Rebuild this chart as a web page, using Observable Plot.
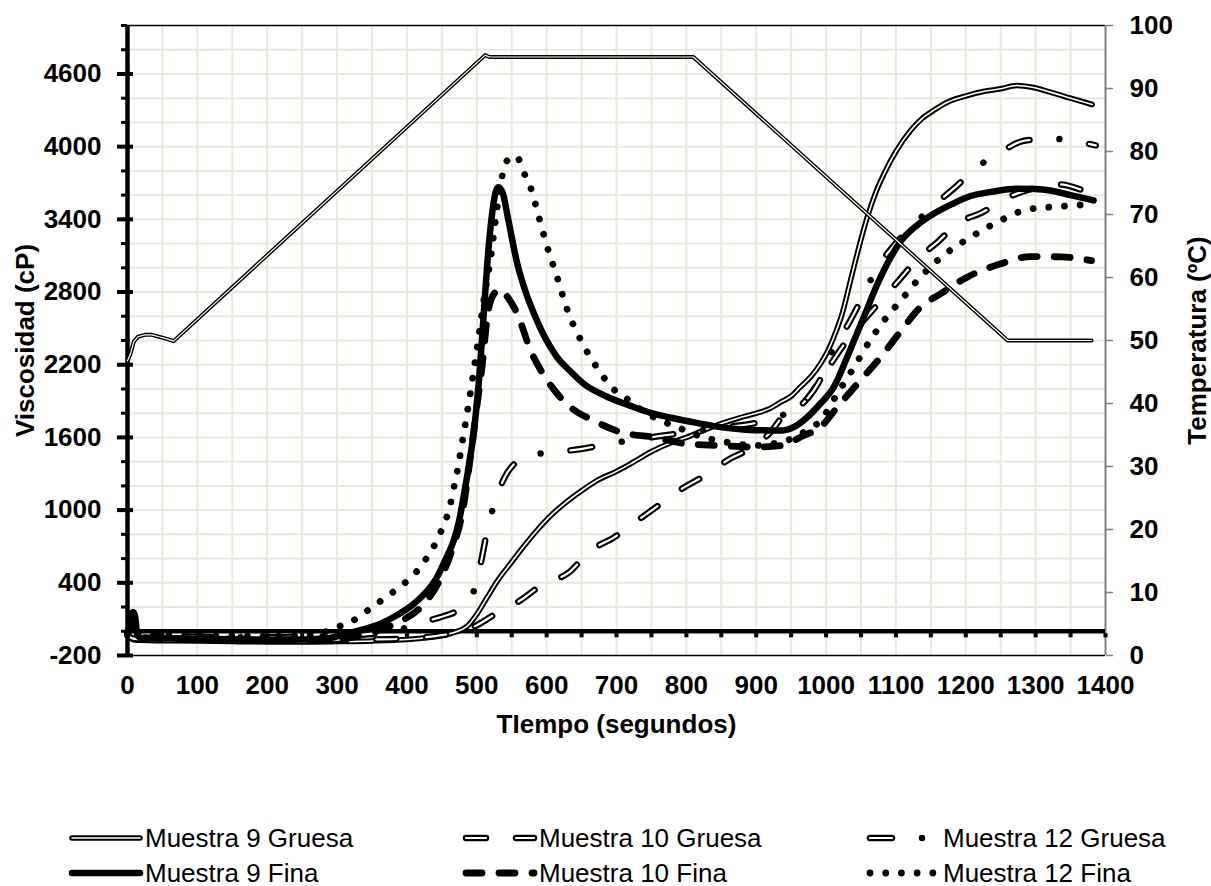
<!DOCTYPE html>
<html><head><meta charset="utf-8">
<script src="https://cdn.jsdelivr.net/npm/d3@7"></script>
<script src="https://cdn.jsdelivr.net/npm/@observablehq/plot@0.6"></script>
<style>
body{margin:0;background:#fff;}
#wrap{position:relative;width:1211px;height:886px;overflow:hidden;background:#fff;}
#legend{position:absolute;left:0;top:0;width:1211px;height:886px;font-family:"Liberation Sans",Arial,sans-serif;font-size:26px;color:#000;}
.item{position:absolute;display:flex;align-items:center;height:30px;white-space:nowrap;}
.item svg{display:block;margin-right:1px;}
</style></head><body><div id="wrap"><div id="legend"></div></div>
<script>
// ---- tick labels / axes ----
const xTicks = [0,100,200,300,400,500,600,700,800,900,1000,1100,1200,1300,1400];
const yTicks = [-200,400,1000,1600,2200,2800,3400,4000,4600];
const tempTicks = [0,10,20,30,40,50,60,70,80,90,100];
const xTitle = "TIempo (segundos)";
const yTitle = "Viscosidad (cP)";
const y2Title = "Temperatura (ºC)";
const seriesNames = ["Muestra 9 Gruesa","Muestra 10 Gruesa","Muestra 12 Gruesa","Muestra 9 Fina","Muestra 10 Fina","Muestra 12 Fina"];

// ---- temperature profile [t (s), T (ºC)] ----
const temperatura = [[0,46.8],[4,47.8],[9,49.8],[15,50.6],[25,50.9],[35,50.9],[45,50.6],[55,50.3],[66,49.9],[512,95.3],[518,95.0],[810,95.0],[1260,50.0],[1380,50.0]];

// ---- viscosity series [t (s), cP] ----
const muestra9Gruesa = [[0,-20],[4,-50],[8,-70],[20,-75],[50,-78],[100,-80],[150,-85],[200,-88],[250,-88],[300,-85],[350,-80],[400,-68],[430,-52],[450,-35],[465,-15],[477,10],[486,40],[500,140],[515,281],[530,420],[548,557],[567,700],[586,832],[605,950],[625,1052],[650,1160],[672,1244],[700,1320],[720,1382],[753,1492],[780,1560],[801,1602],[825,1660],[849,1712],[875,1760],[897,1795],[920,1840],[935,1891],[950,1940],[963,2015],[978,2100],[992,2208],[1003,2320],[1011,2427],[1023,2620],[1035,2895],[1047,3170],[1059,3418],[1071,3620],[1083,3776],[1100,3960],[1121,4133],[1137,4230],[1154,4299],[1175,4370],[1202,4422],[1225,4455],[1250,4478],[1273,4505],[1295,4490],[1321,4450],[1350,4400],[1381,4348]];
const muestra10Gruesa = [[0,-30],[8,-60],[20,-65],[50,-60],[100,-62],[150,-65],[200,-68],[250,-70],[300,-70],[350,-68],[400,-60],[440,-40],[470,-10],[500,50],[530,155],[562,254],[596,394],[630,477],[663,667],[696,773],[730,914],[760,1038],[794,1178],[827,1286],[863,1426],[892,1509],[920,1640],[939,1781],[968,1888],[1000,2150],[1030,2400],[1075,2705],[1104,2895],[1133,3085],[1159,3209],[1188,3366],[1223,3456],[1260,3580],[1300,3660],[1331,3690],[1368,3638],[1383,3600]];
const muestra12Gruesa = [[0,-10],[5,60],[9,100],[14,-20],[20,-40],[50,-35],[100,-45],[150,-50],[200,-50],[250,-45],[300,-40],[350,-20],[400,30],[429,85],[450,120],[472,171],[485,240],[496,337],[506,570],[515,832],[525,1050],[540,1272],[555,1390],[572,1451],[610,1478],[651,1506],[691,1550],[720,1575],[760,1610],[800,1640],[850,1680],[900,1720],[940,1790],[970,1900],[990,2060],[1011,2345],[1032,2538],[1052,2757],[1071,2978],[1095,3170],[1123,3341],[1157,3530],[1183,3655],[1216,3830],[1250,3955],[1285,4051],[1326,4065],[1364,4037],[1386,4010]];
const muestra9Fina = [[0,-20],[4,80],[8,160],[11,120],[14,-30],[20,-55],[50,-58],[100,-62],[150,-66],[200,-70],[250,-68],[290,-55],[314,-20],[340,20],[362,62],[385,130],[410,227],[430,340],[443,446],[455,590],[467,749],[475,920],[481,1107],[489,1380],[496,1657],[505,2208],[510,2620],[515,3033],[520,3350],[525,3570],[531,3665],[537,3620],[545,3400],[558,3033],[570,2800],[582,2620],[598,2420],[615,2262],[635,2140],[653,2043],[685,1940],[720,1860],[750,1800],[780,1760],[815,1720],[849,1685],[890,1662],[935,1657],[955,1690],[973,1767],[992,1880],[1011,2015],[1030,2260],[1046,2483],[1054,2592],[1073,2860],[1090,3060],[1106,3212],[1130,3350],[1154,3446],[1180,3525],[1202,3583],[1240,3630],[1273,3652],[1300,3650],[1321,3638],[1350,3600],[1383,3556]];
const muestra10Fina = [[0,-30],[8,60],[12,-20],[20,-50],[50,-60],[100,-65],[150,-70],[200,-72],[250,-72],[300,-65],[330,-40],[360,10],[390,80],[420,200],[445,400],[465,680],[480,1000],[490,1400],[500,1850],[508,2208],[515,2592],[524,2780],[534,2820],[545,2750],[558,2620],[577,2318],[601,2070],[634,1850],[667,1740],[706,1643],[753,1602],[801,1547],[849,1533],[897,1520],[935,1533],[968,1616],[992,1685],[1016,1850],[1049,2070],[1078,2262],[1106,2470],[1135,2675],[1164,2786],[1202,2923],[1250,3033],[1293,3093],[1336,3090],[1380,3060]];
const muestra12Fina = [[0,-20],[10,30],[20,-30],[50,-35],[100,-40],[150,-40],[200,-42],[250,-35],[280,-10],[300,34],[331,116],[350,199],[370,280],[386,350],[405,440],[419,529],[432,640],[443,749],[452,870],[460,997],[467,1180],[474,1382],[480,1590],[486,1795],[493,2050],[500,2318],[508,2648],[514,2880],[520,3088],[528,3450],[536,3748],[542,3872],[550,3915],[557,3919],[567,3789],[576,3680],[589,3418],[601,3170],[615,2923],[629,2662],[648,2414],[670,2194],[698,1987],[715,1919],[735,1830],[758,1754],[780,1700],[799,1657],[820,1610],[844,1575],[870,1550],[897,1533],[920,1545],[944,1575],[970,1650],[992,1740],[1016,1960],[1040,2180],[1063,2400],[1085,2580],[1107,2730],[1135,2923],[1168,3102],[1207,3253],[1245,3377],[1288,3481],[1333,3506],[1357,3515],[1383,3530]];

// ---- secondary axis mapping (0–100 ºC onto -200–5000 cP) ----
const vMin = -200, vMax = 5000;
const tempToV = T => vMin + T * (vMax - vMin) / 100;

// ---- styles ----
const styles = {
  "Muestra 9 Gruesa":  [{stroke:"black", strokeWidth:5.5}, {stroke:"white", strokeWidth:1.6}],
  "Muestra 10 Gruesa": [{stroke:"black", strokeWidth:6.5, strokeDasharray:"20,30"}, {stroke:"white", strokeWidth:2.2, strokeDasharray:"20,30"}],
  "Muestra 12 Gruesa": [{stroke:"black", strokeWidth:6.5, strokeDasharray:"22,30,0.01,30"}, {stroke:"white", strokeWidth:2.2, strokeDasharray:"22,60.01"}],
  "Muestra 9 Fina":    [{stroke:"black", strokeWidth:6.5}],
  "Muestra 10 Fina":   [{stroke:"black", strokeWidth:6.8, strokeDasharray:"16,17"}],
  "Muestra 12 Fina":   [{stroke:"black", strokeWidth:6.8, strokeDasharray:"0.01,15.7"}]
};
const seriesData = {
  "Muestra 9 Gruesa": muestra9Gruesa, "Muestra 10 Gruesa": muestra10Gruesa, "Muestra 12 Gruesa": muestra12Gruesa,
  "Muestra 9 Fina": muestra9Fina, "Muestra 10 Fina": muestra10Fina, "Muestra 12 Fina": muestra12Fina
};

const font = "'Liberation Sans', Arial, Helvetica, sans-serif";
const fs = 26;
const gridColor = "#ece8dc";
const xGrid = d3.range(50, 1400, 50);
const yGrid = d3.range(0, 5000, 200);
const yMinor = d3.range(-200, 5001, 200);
const xTickMarks = d3.range(50, 1401, 50);

const seriesMarks = [];
for (const name of seriesNames) {
  for (const st of styles[name]) {
    seriesMarks.push(Plot.line(seriesData[name], {x: d => d[0], y: d => d[1], curve: "monotone-x", strokeLinecap: "round", strokeLinejoin: "round", ...st}));
  }
}

const chart = Plot.plot({
  width: 1211, height: 760,
  marginLeft: 127, marginRight: 106, marginTop: 25, marginBottom: 105,
  x: {domain: [0, 1400], axis: null},
  y: {domain: [vMin, vMax], axis: null},
  style: {fontFamily: font, background: "white", color: "black", overflow: "visible"},
  marks: [
    Plot.gridX(xGrid, {stroke: gridColor, strokeOpacity: 1, strokeWidth: 2}),
    Plot.gridY(yGrid, {stroke: gridColor, strokeOpacity: 1, strokeWidth: 2}),
    Plot.ruleY([vMax], {stroke: "black", strokeWidth: 1.5}),
    Plot.ruleY([vMin], {stroke: "black", strokeWidth: 1.5}),
    Plot.ruleX([1400], {stroke: "#7f7f7f", strokeWidth: 2}),
    Plot.axisY(tempTicks.map(tempToV), {anchor: "right", tickSize: 7, tickPadding: 17, stroke: "#7f7f7f", strokeWidth: 1.5, fill: "black",
      tickFormat: v => String(Math.round((v - vMin) * 100 / (vMax - vMin))), fontSize: fs, fontWeight: "bold"}),
    Plot.axisY(yMinor, {anchor: "left", tickSize: 6, strokeWidth: 3, tickFormat: () => ""}),
    Plot.axisY(yTicks, {anchor: "left", tickSize: 16, dx: 6, tickPadding: 16, strokeWidth: 4, fontSize: fs, fontWeight: "bold", fill: "black", tickFormat: d => String(d)}),
    Plot.ruleX([0], {stroke: "black", strokeWidth: 4.5}),
    Plot.ruleY([0], {stroke: "black", strokeWidth: 4.5}),
    Plot.dot(xTickMarks, {x: d => d, y: 0, symbol: "square", r: 2.3, fill: "black", dy: 4}),
    Plot.axisX(xTicks, {anchor: "bottom", tickSize: 0, tickPadding: 20, fontSize: fs, fontWeight: "bold", fill: "black", tickFormat: d => String(d)}),
    Plot.text([xTitle], {text: d => d, frameAnchor: "bottom", dy: 69, fontSize: fs, fontWeight: "bold", lineAnchor: "middle", textAnchor: "middle"}),
    Plot.text([yTitle], {text: d => d, frameAnchor: "left", dx: -102, rotate: -90, fontSize: fs, fontWeight: "bold", lineAnchor: "middle", textAnchor: "middle"}),
    Plot.text([y2Title], {text: d => d, frameAnchor: "right", dx: 92, rotate: -90, fontSize: fs, fontWeight: "bold", lineAnchor: "middle", textAnchor: "middle"}),
    ...seriesMarks,
    Plot.line(temperatura, {x: d => d[0], y: d => tempToV(d[1]), stroke: "black", strokeWidth: 4, strokeLinejoin: "round", strokeLinecap: "round"}),
    Plot.line(temperatura, {x: d => d[0], y: d => tempToV(d[1]), stroke: "white", strokeWidth: 1.2, strokeLinejoin: "round", strokeLinecap: "round"})
  ]
});
const wrap = document.getElementById("wrap");
wrap.insertBefore(chart, wrap.firstChild);

// ---- legend (HTML below the chart) ----
const legend = document.getElementById("legend");
const colLeft = [68, 462, 866];
const rowY = [838, 873];
seriesNames.forEach((name, i) => {
  const col = i % 3, row = Math.floor(i / 3);
  const item = document.createElement("div");
  item.className = "item";
  item.style.left = colLeft[col] + "px";
  item.style.top = (rowY[row] - 15) + "px";
  const ns = "http://www.w3.org/2000/svg";
  const svg = document.createElementNS(ns, "svg");
  svg.setAttribute("width", 76); svg.setAttribute("height", 30);
  for (const st of styles[name]) {
    const ln = document.createElementNS(ns, "line");
    ln.setAttribute("x1", 4); ln.setAttribute("x2", 72); ln.setAttribute("y1", 15); ln.setAttribute("y2", 15);
    ln.setAttribute("stroke", st.stroke); ln.setAttribute("stroke-width", st.strokeWidth);
    ln.setAttribute("stroke-linecap", "round");
    if (st.strokeDasharray) ln.setAttribute("stroke-dasharray", st.strokeDasharray);
    svg.appendChild(ln);
  }
  item.appendChild(svg);
  const span = document.createElement("span");
  span.textContent = name;
  item.appendChild(span);
  legend.appendChild(item);
});
</script></body></html>
